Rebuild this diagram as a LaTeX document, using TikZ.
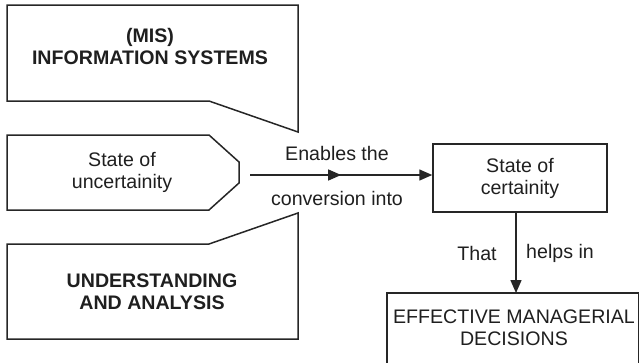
\documentclass[tikz,border=0pt]{standalone}
\usepackage{fontspec}
\setmainfont{Liberation Sans}
\usetikzlibrary{arrows.meta,decorations.markings}
\begin{document}
\begin{tikzpicture}[x=1pt,y=-1pt,
  shapeline/.style={draw=black!85,line width=1.5pt,line join=miter},
  txt/.style={align=center,font=\fontsize{19.6}{22}\selectfont,text=black!88,inner sep=0pt},
  btxt/.style={txt,font=\fontsize{19.6}{22}\selectfont\bfseries},
  conn/.style={draw=black!85,line width=1.5pt,-{Triangle[length=13pt,width=11pt]}},
  midarrow/.style={postaction={decorate},decoration={markings,
     mark=at position 0.5 with {\arrow{Triangle[length=13pt,width=11pt]}}}}]
\useasboundingbox (0,0) rectangle (639,362);
% top callout
\draw[shapeline] (7,5) -- (298,5) -- (298,132) -- (209,101) -- (7,101) -- cycle;
\node[btxt] (mis) at (150,46) {(MIS)\\INFORMATION SYSTEMS};
% middle shape
\draw[shapeline] (7,135) -- (209,135) -- (239,162) -- (239,183) -- (209,210) -- (7,210) -- cycle;
\node[txt] (unc) at (122,172) {State of\\uncertainity};
\coordinate (tip) at (250,175);
% bottom callout
\draw[shapeline] (7,339) -- (298,339) -- (298,213) -- (209,244) -- (7,244) -- cycle;
\node[btxt] (ua) at (152,292) {UNDERSTANDING\\AND ANALYSIS};
% certainty box
\node[shapeline,txt,minimum width=174pt,minimum height=68pt] (cert) at (520,178) {State of\\certainity};
\draw[conn,midarrow] (tip) -- (tip -| cert.west);
\node[txt] (en) at (337,153) {Enables the};
\node[txt] (conv) at (337,198) {conversion into};
% bottom box
\draw[shapeline] (387,364) -- (387,293) -- (639,293) -- (639,364);
\coordinate (eff) at (516,293);
\node[txt] (emd) at (514,328) {EFFECTIVE MANAGERIAL\\DECISIONS};
\draw[conn] (cert.south -| eff) -- (eff);
\node[txt] (that) at (477,253) {That};
\node[txt] (helps) at (560,253) {helps in};
\end{tikzpicture}
\end{document}
